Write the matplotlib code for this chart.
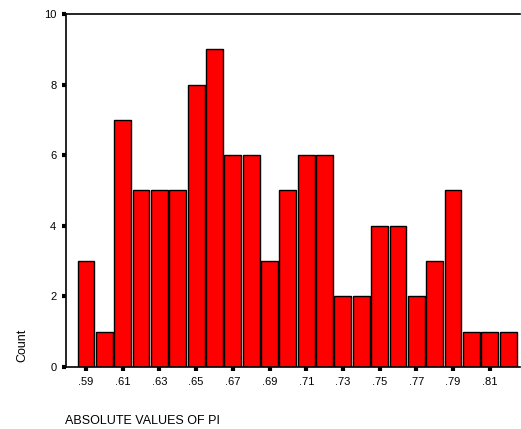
import numpy as np
import matplotlib.pyplot as plt

# bin centres and counts
centres = [0.59, 0.60, 0.61, 0.62, 0.63, 0.64, 0.65, 0.66, 0.67, 0.68, 0.69, 0.70,
           0.71, 0.72, 0.73, 0.74, 0.75, 0.76, 0.77, 0.78, 0.79, 0.80, 0.81, 0.82]
counts = [3, 1, 7, 5, 5, 5, 8, 9, 6, 6, 3, 5,
          6, 6, 2, 2, 4, 4, 2, 3, 5, 1, 1, 1]
xticks = [0.59, 0.61, 0.63, 0.65, 0.67, 0.69, 0.71, 0.73, 0.75, 0.77, 0.79, 0.81]
xticklabels = [".59", ".61", ".63", ".65", ".67", ".69", ".71", ".73", ".75", ".77", ".79", ".81"]
yticks = [0, 2, 4, 6, 8, 10]

plt.rcParams['font.family'] = ['Liberation Sans', 'DejaVu Sans']

fig = plt.figure(figsize=(5.21, 4.29), dpi=100)
ax = fig.add_axes([66/521, 62/429, 454/521, 353/429])

ax.bar(centres, counts, width=0.0092, color="#ff0000", edgecolor="black", linewidth=1.0)

ax.set_xlim(0.5791, 0.8265)
ax.set_ylim(0, 10)
ax.set_xticks(xticks)
ax.set_xticklabels(xticklabels)
ax.set_yticks(yticks)
ax.tick_params(direction="out", length=3, width=3, labelsize=8, pad=4)

ax.spines["right"].set_visible(False)
for s in ["left", "bottom", "top"]:
    ax.spines[s].set_linewidth(1.2)

fig.text(22/521, 1 - 345/429, "Count", rotation=90, ha="center", va="center", fontsize=9)
fig.text(65/521, 1 - 421/429, "ABSOLUTE VALUES OF PI", ha="left", va="center", fontsize=9)

fig.savefig("out.png", dpi=100)
